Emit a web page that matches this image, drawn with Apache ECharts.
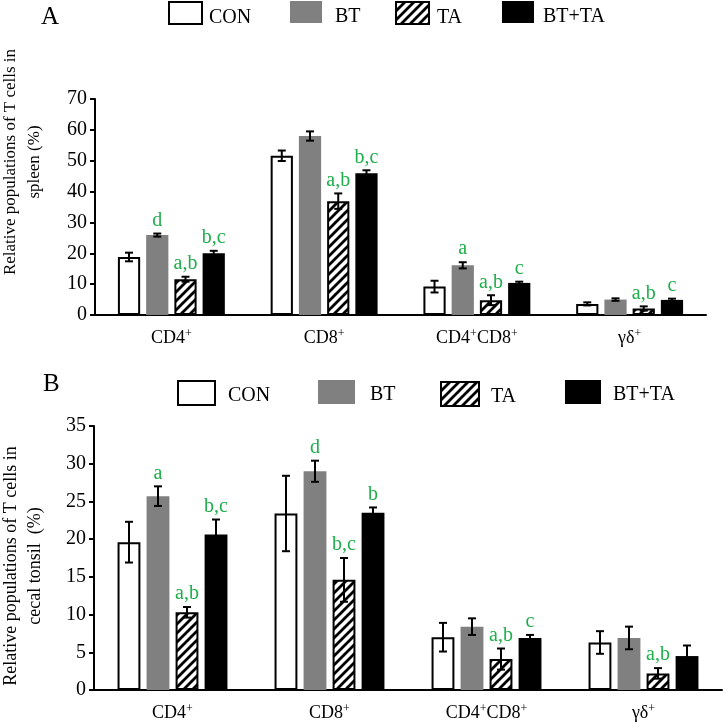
<!DOCTYPE html>
<html><head><meta charset="utf-8">
<script src="https://cdn.jsdelivr.net/npm/echarts@6/dist/echarts.min.js"></script>
<style>html,body{margin:0;padding:0;background:#fff}#c{width:726px;height:725px}</style>
</head><body><div id="c"></div>
<script>
const categories = ['CD4+', 'CD8+', 'CD4+CD8+', 'γδ+'];
const groups = ['CON', 'BT', 'TA', 'BT+TA'];

// Panel A: spleen
const spleenCON = [18.8, 51.6, 9.2, 3.6];
const spleenBT = [25.9, 58.0, 16.1, 5.0];
const spleenTA = [11.6, 36.9, 4.8, 2.1];
const spleenBTTA = [20.0, 45.9, 10.4, 4.9];
const spleenErrCON = [1.4, 1.7, 1.9, 0.5];
const spleenErrBT = [0.5, 1.5, 1.0, 0.4];
const spleenErrTA = [0.8, 2.5, 1.6, 0.7];
const spleenErrBTTA = [0.8, 1.0, 0.4, 0.4];
const spleenLetCON = ['', '', '', ''];
const spleenLetBT = ['d', '', 'a', ''];
const spleenLetTA = ['a,b', 'a,b', 'a,b', 'a,b'];
const spleenLetBTTA = ['b,c', 'b,c', 'c', 'c'];

// Panel B: cecal tonsil
const tonsilCON = [19.6, 23.4, 7.0, 6.3];
const tonsilBT = [25.7, 29.0, 8.4, 6.9];
const tonsilTA = [10.3, 14.6, 4.1, 2.2];
const tonsilBTTA = [20.6, 23.5, 6.9, 4.5];
const tonsilErrCON = [2.7, 5.0, 1.9, 1.5];
const tonsilErrBT = [1.3, 1.4, 1.1, 1.5];
const tonsilErrTA = [0.7, 2.9, 1.4, 0.7];
const tonsilErrBTTA = [2.0, 0.7, 0.4, 1.4];
const tonsilLetCON = ['', '', '', ''];
const tonsilLetBT = ['a', 'd', '', ''];
const tonsilLetTA = ['a,b', 'b,c', 'a,b', 'a,b'];
const tonsilLetBTTA = ['b,c', 'b', 'c', ''];

const yTicksA = {min: 0, max: 70, interval: 10};
const yTicksB = {min: 0, max: 35, interval: 5};

const FONT = '"Liberation Serif", "Times New Roman", serif';
const GREEN = '#1fae4b';
const CAT_GAP = 0.30, BAR_GAP = 0.27;

function hatch() {
  const c = document.createElement('canvas');
  const s = 9; c.width = s; c.height = s;
  const g = c.getContext('2d');
  g.fillStyle = '#fff'; g.fillRect(0, 0, s, s);
  g.strokeStyle = '#000'; g.lineWidth = 2.8; g.lineCap = 'square';
  g.beginPath();
  g.moveTo(-2, s + 2); g.lineTo(s + 2, -2);
  g.moveTo(-2, 2); g.lineTo(2, -2);
  g.moveTo(s - 2, s + 2); g.lineTo(s + 2, s - 2);
  g.stroke();
  return c;
}
const hatchPattern = {image: hatch(), repeat: 'repeat'};

const styles = [
  {color: '#fff', borderColor: '#000', borderWidth: 2},
  {color: '#808080', borderWidth: 0},
  {color: hatchPattern, borderColor: '#000', borderWidth: 2},
  {color: '#000', borderWidth: 0}
];

function catFmt(v) { return v.replace(/\+/g, '{s|+}'); }

function makePanel(idx, vals, errs, lets) {
  const out = [];
  vals.forEach((v, s) => {
    out.push({
      type: 'bar', name: groups[s], xAxisIndex: idx, yAxisIndex: idx,
      data: v, barCategoryGap: (CAT_GAP * 100) + '%', barGap: (BAR_GAP * 100) + '%',
      itemStyle: styles[s], emphasis: {disabled: true}, z: 2
    });
  });
  const data = [];
  vals.forEach((v, s) => v.forEach((m, c) => data.push([c, m, errs[s][c], s])));
  out.push({
    type: 'custom', xAxisIndex: idx, yAxisIndex: idx, z: 5, clip: false, silent: true,
    encode: {x: 0, y: 1},
    data: data,
    renderItem: function (params, api) {
      const c = api.value(0), m = api.value(1), e = api.value(2), s = api.value(3);
      const band = api.size([1, 0])[0];
      const w = band * (1 - CAT_GAP) / (4 + 3 * BAR_GAP);
      const cx = api.coord([c, 0])[0] - band * (1 - CAT_GAP) / 2 + s * w * (1 + BAR_GAP) + w / 2;
      const yTop = api.coord([c, m + e])[1];
      const yBot = api.coord([c, m - e])[1];
      const cap = 4;
      const ls = {stroke: '#000', lineWidth: 2};
      const children = [
        {type: 'line', shape: {x1: cx, y1: yTop, x2: cx, y2: yBot}, style: ls},
        {type: 'line', shape: {x1: cx - cap, y1: yTop, x2: cx + cap, y2: yTop}, style: ls},
        {type: 'line', shape: {x1: cx - cap, y1: yBot, x2: cx + cap, y2: yBot}, style: ls}
      ];
      const t = lets[s][c];
      if (t) {
        children.push({type: 'text', x: cx, y: yTop - 3,
          style: {text: t, fill: GREEN, font: '20px ' + FONT, align: 'center', verticalAlign: 'bottom'}});
      }
      return {type: 'group', children: children};
    }
  });
  return out;
}

const legendPos = [
  // panel A
  {n: 'CON', left: 168, top: 1, w: 33, h: 22, pad: 2, pt: 10},
  {n: 'BT', left: 290, top: 1, w: 32, h: 22, pad: 8, pt: 10},
  {n: 'TA', left: 395, top: 1, w: 33, h: 22, pad: 3, pt: 10},
  {n: 'BT+TA', left: 502, top: 1, w: 32, h: 22, pad: 4, pt: 10},
  // panel B
  {n: 'CON', left: 177, top: 380, w: 37, h: 24, pad: 8, pt: 6},
  {n: 'BT', left: 318, top: 380, w: 37, h: 24, pad: 10, pt: 6},
  {n: 'TA', left: 440, top: 381, w: 38, h: 24, pad: 7, pt: 6},
  {n: 'BT+TA', left: 565, top: 380, w: 36, h: 24, pad: 7, pt: 6}
];

const legends = legendPos.map(p => ({
  data: [p.n], left: p.left, top: p.top, padding: 0, itemWidth: p.w, itemHeight: p.h,
  selectedMode: false, icon: 'rect',
  formatter: '{t|{name}}',
  textStyle: {fontFamily: FONT, fontSize: 20, color: '#000',
    rich: {t: {fontFamily: FONT, fontSize: 20, color: '#000', padding: [p.pt, 0, 0, p.pad]}}}
}));

function yAxis(idx, t) {
  return {
    type: 'value', gridIndex: idx, min: t.min, max: t.max, interval: t.interval,
    axisLine: {show: true, lineStyle: {color: '#000', width: 2}},
    axisTick: {show: true, length: 5, lineStyle: {color: '#000', width: 2}},
    splitLine: {show: false},
    axisLabel: {fontFamily: FONT, fontSize: 20, color: '#000', margin: 8}
  };
}
function xAxis(idx) {
  return {
    type: 'category', gridIndex: idx, data: categories,
    axisLine: {lineStyle: {color: '#000', width: 2}},
    axisTick: {show: false},
    axisLabel: {interval: 0, formatter: catFmt, margin: 13, fontFamily: FONT, fontSize: 18, color: '#000',
      rich: {s: {fontFamily: FONT, fontSize: 12, color: '#000', padding: [0, 0, 9, 0]}}}
  };
}

const option = {
  animation: false,
  backgroundColor: '#fff',
  title: [
    {text: 'A', left: 36, top: 0, textStyle: {fontFamily: FONT, fontSize: 25, fontWeight: 'normal', color: '#000'}},
    {text: 'B', left: 38, top: 367, textStyle: {fontFamily: FONT, fontSize: 25, fontWeight: 'normal', color: '#000'}}
  ],
  legend: legends,
  grid: [
    {left: 95, right: 20, top: 99, bottom: 410},
    {left: 94, right: 4, top: 426, bottom: 35}
  ],
  xAxis: [xAxis(0), xAxis(1)],
  yAxis: [yAxis(0, yTicksA), yAxis(1, yTicksB)],
  graphic: [
    {type: 'text', x: 11, y: 162, rotation: Math.PI / 2,
      style: {text: 'Relative populations of T cells in', font: '17px ' + FONT, fill: '#000', align: 'center', verticalAlign: 'middle'}},
    {type: 'text', x: 35, y: 162, rotation: Math.PI / 2,
      style: {text: 'spleen (%)', font: '17px ' + FONT, fill: '#000', align: 'center', verticalAlign: 'middle'}},
    {type: 'text', x: 11, y: 566, rotation: Math.PI / 2,
      style: {text: 'Relative populations of T cells in', font: '18px ' + FONT, fill: '#000', align: 'center', verticalAlign: 'middle'}},
    {type: 'text', x: 35, y: 566, rotation: Math.PI / 2,
      style: {text: 'cecal tonsil  (%)', font: '18px ' + FONT, fill: '#000', align: 'center', verticalAlign: 'middle'}}
  ],
  series: [].concat(
    makePanel(0, [spleenCON, spleenBT, spleenTA, spleenBTTA],
      [spleenErrCON, spleenErrBT, spleenErrTA, spleenErrBTTA],
      [spleenLetCON, spleenLetBT, spleenLetTA, spleenLetBTTA]),
    makePanel(1, [tonsilCON, tonsilBT, tonsilTA, tonsilBTTA],
      [tonsilErrCON, tonsilErrBT, tonsilErrTA, tonsilErrBTTA],
      [tonsilLetCON, tonsilLetBT, tonsilLetTA, tonsilLetBTTA])
  )
};

const chart = echarts.init(document.getElementById('c'), null, {renderer: 'canvas'});
chart.setOption(option);
</script>
</body></html>
